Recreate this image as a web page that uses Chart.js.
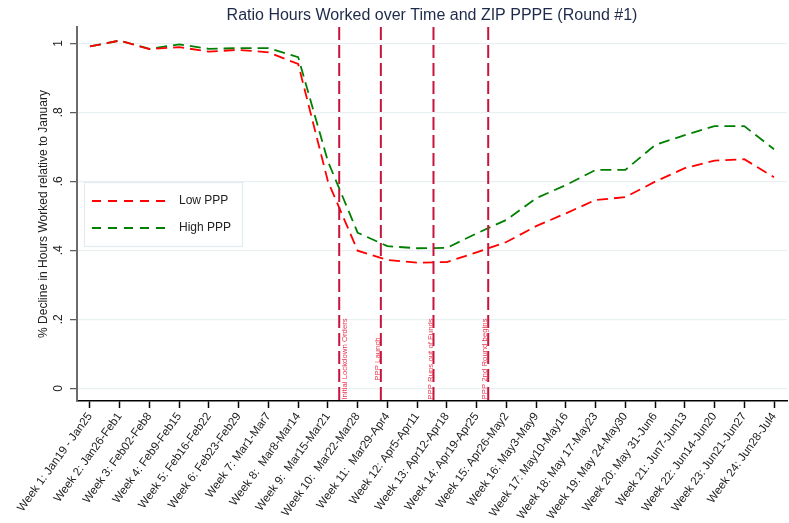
<!DOCTYPE html>
<html>
<head>
<meta charset="utf-8">
<script src="https://cdn.jsdelivr.net/npm/chart.js@4.4.1/dist/chart.umd.min.js"></script>
<style>
  html, body { margin: 0; padding: 0; background: #ffffff; }
  canvas { display: block; }
</style>
</head>
<body>
<canvas id="c" width="789" height="523"></canvas>
<script>
// ---------- data ----------
const weeks = [1,2,3,4,5,6,7,8,9,10,11,12,13,14,15,16,17,18,19,20,21,22,23,24];
const weekLabels = [
  "Week 1: Jan19 - Jan25", "Week 2: Jan26-Feb1", "Week 3: Feb02-Feb8", "Week 4: Feb9-Feb15",
  "Week 5: Feb16-Feb22", "Week 6: Feb23-Feb29", "Week 7: Mar1-Mar7", "Week 8:  Mar8-Mar14",
  "Week 9:  Mar15-Mar21", "Week 10:  Mar22-Mar28", "Week 11:  Mar29-Apr4", "Week 12: Apr5-Apr11",
  "Week 13: Apr12-Apr18", "Week 14: Apr19-Apr25", "Week 15: Apr26-May2", "Week 16: May3-May9",
  "Week 17: May10-May16", "Week 18: May 17-May23", "Week 19: May 24-May30", "Week 20: May 31-Jun6",
  "Week 21: Jun7-Jun13", "Week 22: Jun14-Jun20", "Week 23: Jun21-Jun27", "Week 24: Jun28-Jul4"
];
const lowPPP  = [0.991, 1.008, 0.983, 0.989, 0.976, 0.981, 0.974, 0.940, 0.600, 0.399, 0.372, 0.364,
                 0.366, 0.394, 0.424, 0.470, 0.507, 0.546, 0.554, 0.599, 0.638, 0.660, 0.664, 0.612];
const highPPP = [0.991, 1.008, 0.984, 0.997, 0.984, 0.986, 0.986, 0.960, 0.658, 0.451, 0.412, 0.406,
                 0.407, 0.449, 0.488, 0.551, 0.589, 0.633, 0.633, 0.705, 0.734, 0.760, 0.760, 0.693];
const yTicks = [0, 0.2, 0.4, 0.6, 0.8, 1];
const yTickLabels = ["0", ".2", ".4", ".6", ".8", "1"];
const eventWeeks  = [9.38, 10.78, 12.55, 14.39];
const eventLabels = ["Initial Lockdown Orders", "PPP Launch", "PPP Runs out of Funds", "PPP 2nd Round begins"];
const seriesNames = ["Low PPP", "High PPP"];
const titleText = "Ratio Hours Worked over Time and ZIP PPPE (Round #1)";
const yTitleText = "% Decline in Hours Worked relative to January";

// ---------- styling ----------
const FONT = "'Liberation Sans', Arial, Helvetica, sans-serif";
const RED = "#ff0000", GREEN = "#008000";
const EVENT_COLOR = "#c8143c", EVENT_TEXT = "#e8344e";
const eventTextOffsets = [6, -3, -3, -3];

const overlay = {
  id: 'overlay',
  afterDatasetsDraw(chart) {
    const ctx = chart.ctx, ca = chart.chartArea;
    const xs = chart.scales.x, ys = chart.scales.y;
    ctx.save();
    eventWeeks.forEach((w, i) => {
      const px = xs.getPixelForValue(w);
      ctx.strokeStyle = EVENT_COLOR;
      ctx.lineWidth = 2;
      ctx.setLineDash([13, 5]);
      ctx.beginPath();
      ctx.moveTo(px, ca.top);
      ctx.lineTo(px, ca.bottom);
      ctx.stroke();
      ctx.setLineDash([]);
      ctx.save();
      ctx.translate(px + eventTextOffsets[i], ys.getPixelForValue(0.085));
      ctx.rotate(-Math.PI / 2);
      ctx.fillStyle = EVENT_TEXT;
      ctx.font = "7.8px " + FONT;
      ctx.textAlign = "center";
      ctx.textBaseline = "middle";
      ctx.fillText(eventLabels[i], 0, 0);
      ctx.restore();
    });
    ctx.restore();
  },
  afterDraw(chart) {
    const ctx = chart.ctx, ca = chart.chartArea;
    const ys = chart.scales.y;
    ctx.save();
    // title
    ctx.fillStyle = "#1e2a4a";
    ctx.font = "16px " + FONT;
    ctx.textAlign = "center";
    ctx.textBaseline = "middle";
    ctx.fillText(titleText, (ca.left + ca.right) / 2, 16);
    // y tick labels (rotated)
    ctx.fillStyle = "#222";
    ctx.font = "12px " + FONT;
    yTicks.forEach((v, i) => {
      ctx.save();
      ctx.translate(ca.left - 18.5, ys.getPixelForValue(v));
      ctx.rotate(-Math.PI / 2);
      ctx.textAlign = "center";
      ctx.textBaseline = "middle";
      ctx.fillText(yTickLabels[i], 0, 0);
      ctx.restore();
    });
    // y title
    ctx.save();
    ctx.translate(44, (ca.top + ca.bottom) / 2);
    ctx.rotate(-Math.PI / 2);
    ctx.textAlign = "center";
    ctx.textBaseline = "middle";
    ctx.font = "12px " + FONT;
    ctx.fillText(yTitleText, 0, 0);
    ctx.restore();
    // legend
    const lx = 84, ly = 182, lw = 158, lh = 64;
    ctx.fillStyle = "#ffffff";
    ctx.fillRect(lx, ly, lw, lh);
    ctx.strokeStyle = "#e2ebee";
    ctx.lineWidth = 1.2;
    ctx.strokeRect(lx + 0.5, ly + 0.5, lw, lh);
    chart.data.datasets.forEach((ds, i) => {
      const yy = ly + 19 + i * 27;
      ctx.strokeStyle = ds.borderColor;
      ctx.lineWidth = 1.8;
      ctx.setLineDash([9, 7]);
      ctx.beginPath();
      ctx.moveTo(lx + 8, yy);
      ctx.lineTo(lx + 83, yy);
      ctx.stroke();
      ctx.setLineDash([]);
      ctx.fillStyle = "#222";
      ctx.font = "12px " + FONT;
      ctx.textAlign = "left";
      ctx.textBaseline = "middle";
      ctx.fillText(ds.label, lx + 95, yy);
    });
    ctx.restore();
  }
};

new Chart(document.getElementById('c'), {
  type: 'line',
  data: {
    datasets: [
      { label: seriesNames[0], data: weeks.map((w, i) => ({ x: w, y: lowPPP[i] })),
        borderColor: RED, borderWidth: 1.8, borderDash: [11, 6], pointRadius: 0, tension: 0, fill: false },
      { label: seriesNames[1], data: weeks.map((w, i) => ({ x: w, y: highPPP[i] })),
        borderColor: GREEN, borderWidth: 1.8, borderDash: [11, 6], pointRadius: 0, tension: 0, fill: false }
    ]
  },
  options: {
    responsive: false,
    devicePixelRatio: 1,
    animation: false,
    layout: { padding: { top: 27, right: 2, left: 0, bottom: 0 } },
    plugins: { legend: { display: false }, title: { display: false }, tooltip: { enabled: false } },
    scales: {
      x: {
        type: 'linear',
        min: 0.563, max: 24.437,
        afterBuildTicks: (s) => { s.ticks = weeks.map(v => ({ value: v })); },
        afterFit: (s) => { s.height = 122; },
        grid: { drawOnChartArea: false, drawTicks: true, tickLength: 7, tickColor: '#000', tickWidth: 1.5 },
        border: { display: true, color: '#000', width: 1.5 },
        ticks: {
          autoSkip: false, minRotation: 54, maxRotation: 54, padding: 2,
          color: '#222', font: { family: FONT, size: 11.6 },
          callback: (v) => weekLabels[Math.round(v) - 1]
        }
      },
      y: {
        type: 'linear',
        min: -0.0368, max: 1.0473,
        afterBuildTicks: (s) => { s.ticks = yTicks.map(v => ({ value: v })); },
        afterFit: (s) => { s.width = 77; },
        grid: { color: '#e8f0f2', lineWidth: 1.3, drawTicks: true, tickLength: 7, tickColor: '#555', tickWidth: 1.2 },
        border: { display: true, color: '#6b6b6b', width: 2 },
        ticks: { display: false }
      }
    }
  },
  plugins: [overlay]
});
</script>
</body>
</html>
